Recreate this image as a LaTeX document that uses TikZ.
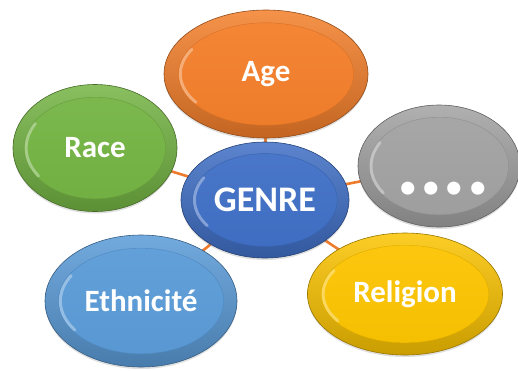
\documentclass[tikz,border=0pt]{standalone}
\usepackage{fontspec}
\setmainfont{Carlito}
\usetikzlibrary{shapes.geometric,calc,backgrounds,shadows}
\definecolor{cOrange}{HTML}{F47F2A}
\definecolor{cGreen}{HTML}{74B443}
\definecolor{cBlue}{HTML}{3F6FC6}
\definecolor{cGray}{HTML}{A2A2A2}
\definecolor{cYellow}{HTML}{FCC400}
\definecolor{cSky}{HTML}{5A9BD8}
\definecolor{cLink}{HTML}{EE7A2C}
\tikzset{
  bub/.style={ellipse, inner sep=0pt, draw=#1!60!black, line width=0.6pt,
    top color=#1!85!white, bottom color=#1!80!black,
    drop shadow={shadow xshift=0pt, shadow yshift=-2pt, opacity=0.25},
    text=white, font=\bfseries\fontsize{31}{33}\selectfont,
    path picture={
      \path let \p1=(path picture bounding box.north east),
                \p2=(path picture bounding box.center),
                \n1={0.86*(\x1-\x2)}, \n2={0.80*(\y1-\y2)} in
        [shade, top color=#1!94!white, bottom color=#1!97!black,
         draw=#1!88!black, line width=0.4pt]
        (\p2) ellipse [x radius=\n1, y radius=\n2];
      \path let \p1=(path picture bounding box.north east),
                \p2=(path picture bounding box.center),
                \n1={0.84*(\x1-\x2)}, \n2={0.77*(\y1-\y2)} in
        [draw=white, draw opacity=0.35, line width=3pt, line cap=round]
        ([shift={(\p2)}]150:\n1 and \n2)
          arc[start angle=150, end angle=215, x radius=\n1, y radius=\n2];
    }},
  link/.style={draw=cLink, line width=2.6pt},
  dotstxt/.style={text=white, inner sep=0pt, font=\bfseries\fontsize{88}{88}\selectfont}
}
\begin{document}
\begin{tikzpicture}[x=1pt,y=-1pt]
\useasboundingbox (0,0) rectangle (518,370);
\node[bub=cOrange, minimum width=204pt, minimum height=128pt] (age) at (266,74) {Age};
\node[bub=cGreen, minimum width=164pt, minimum height=127pt] (race) at (95,148) {Race};
\node[bub=cGray, minimum width=162pt, minimum height=122pt] (more) at (439,166) {};
\node[dotstxt, anchor=base] (dots) at (443,194) {....};
\node[bub=cSky, minimum width=192pt, minimum height=132pt] (eth) at (141,301) {Ethnicité};
\node[bub=cYellow, minimum width=195pt, minimum height=122pt] (rel) at (405,294) {Religion};
\node[bub=cBlue, minimum width=168pt, minimum height=116pt,
      font=\bfseries\fontsize{36}{38}\selectfont] (genre) at (265,200) {GENRE};
\begin{scope}[on background layer]
  \draw[link] (genre.center) -- (age.center);
  \draw[link] (genre.center) -- (race.center);
  \draw[link] (genre.center) -- (more.center);
  \draw[link] (genre.center) -- (eth.center);
  \draw[link] (genre.center) -- (rel.center);
\end{scope}
\end{tikzpicture}
\end{document}
